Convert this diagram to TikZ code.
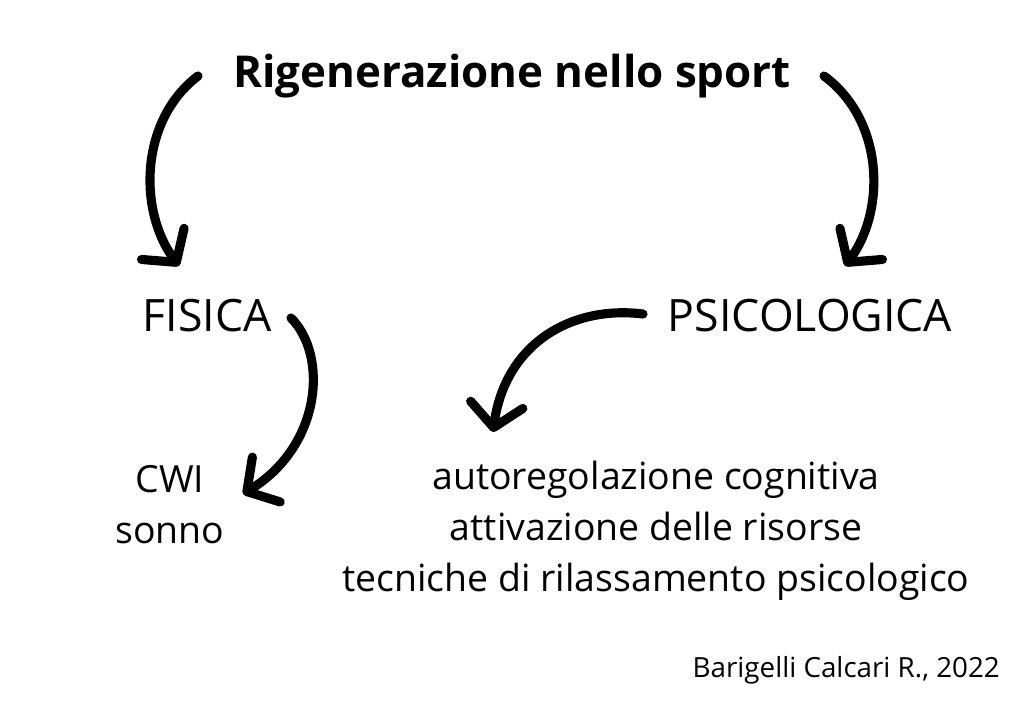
\documentclass[tikz,border=0pt]{standalone}
\usepackage{fontspec}
\setmainfont{Open Sans}
\usetikzlibrary{arrows.meta}

\begin{document}
\begin{tikzpicture}[x=0.02cm, y=-0.02cm,
  ttl/.style={font=\fontsize{25}{29}\selectfont\bfseries},
  lvl/.style={font=\fontsize{25.4}{29}\selectfont},
  itm/.style={font=\fontsize{21.3}{29}\selectfont, align=center},
  src/.style={font=\fontsize{15.8}{18}\selectfont, anchor=east},
  arr/.style={line width=5.2pt, line cap=round,
              -{Straight Barb[length=13pt, width=30pt, round]}}
]
  \useasboundingbox[fill=white] (0,0) rectangle (1024,726);

  \node[ttl] (title) at (512,76) {Rigenerazione nello sport};
  \node[lvl] (fis) at (207,316) {FISICA};
  \node[lvl] (psi) at (810,316) {PSICOLOGICA};
  \node[itm] (fisitems) at (170,505) {CWI\\sonno};
  \node[itm] (psiitems) at (656,531) {autoregolazione cognitiva\\attivazione delle risorse\\tecniche di rilassamento psicologico};
  \node[src] (credit) at (1006,670) {Barigelli Calcari R., 2022};

  % free ends of the brush arrows
  \coordinate (a1) at (198,76);
  \coordinate (b1) at (179,266);
  \coordinate (a2) at (824,76);
  \coordinate (b2) at (845,266);
  \coordinate (a3) at (291,318);
  \coordinate (b3) at (243,494);
  \coordinate (a4) at (643,314);
  \coordinate (b4) at (493,432);

  \draw[arr] (a1) .. controls (140,120) and (138,210) .. (b1);
  \draw[arr] (a2) .. controls (884,120) and (886,210) .. (b2);
  \draw[arr] (a3) .. controls (328,355) and (322,445) .. (b3);
  \draw[arr] (a4) .. controls (570,305) and (505,345) .. (b4);
\end{tikzpicture}
\end{document}
